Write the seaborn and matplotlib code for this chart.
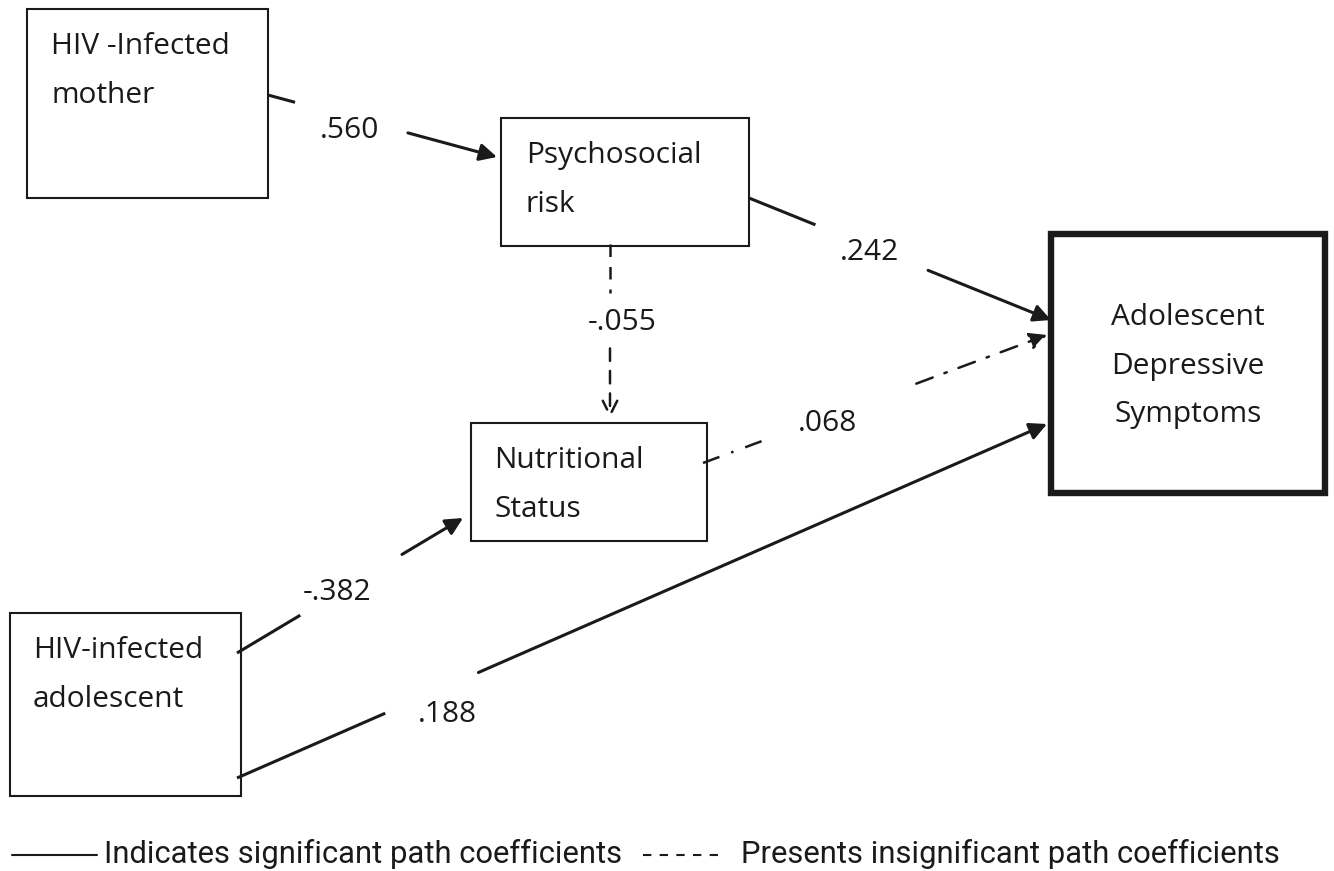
import matplotlib
matplotlib.use("Agg")
import matplotlib.pyplot as plt
from matplotlib.patches import Rectangle, FancyArrowPatch
import seaborn as sns

# Nodes of the path model
node_names = ["mother", "psych", "nutri", "adol", "dep"]
node_labels = ["HIV -Infected\nmother", "Psychosocial\nrisk", "Nutritional\nStatus",
               "HIV-infected\nadolescent", "Adolescent\nDepressive\nSymptoms"]

# Paths: source, target, coefficient, significant?
path_from = ["mother", "psych", "psych", "nutri", "adol", "adol"]
path_to = ["psych", "dep", "nutri", "dep", "nutri", "dep"]
path_coef = [".560", ".242", "-.055", ".068", "-.382", ".188"]
path_sig = [True, True, False, False, True, True]

legend_texts = ["Indicates significant path coefficients",
                "Presents insignificant path coefficients"]

# layout (pixel coordinates of the image)
box_xywh = {"mother": (27, 9, 241, 189), "psych": (501, 118, 248, 128),
            "nutri": (471, 423, 236, 118), "adol": (10, 613, 231, 183),
            "dep": (1051, 234, 274, 259)}
text_xy = {"mother": (51, 71), "psych": (526, 180), "nutri": (494, 485),
           "adol": (33, 675), "dep": (1188, 366)}
path_geom = [((268, 95), (497, 157), 0.118, 0.611, (350, 130)),
             ((749, 198), (1051, 320), 0.22, 0.593, (870, 252)),
             ((610, 244), (610, 418), 0.28, 0.6, (622, 322)),
             ((703, 463), (1047, 335), 0.2, 0.62, (827, 423)),
             ((237, 653), (463, 518), 0.28, 0.73, (337, 592)),
             ((237, 778), (1047, 424), 0.183, 0.298, (447, 714))]

sns.set_theme(style="white")
plt.rcParams['font.family'] = ['Open Sans', 'DejaVu Sans']

fig = plt.figure(figsize=(13.34, 8.71), dpi=100)
ax = fig.add_axes([0, 0, 1, 1])
ax.set_xlim(0, 1334)
ax.set_ylim(871, 0)
ax.axis("off")

for name, label in zip(node_names, node_labels):
    x, y, w, h = box_xywh[name]
    lw = 4.6 if name == "dep" else 1.5
    ax.add_patch(Rectangle((x, y), w, h, fill=False, ec="#1a1a1a", lw=lw))
    tx, ty = text_xy[name]
    ha = "center" if name == "dep" else "left"
    ax.text(tx, ty, label, ha=ha, va="center", fontsize=21.5, color="#1a1a1a",
            linespacing=1.9, multialignment=ha)

for i, (src, dst, coef, sig) in enumerate(zip(path_from, path_to, path_coef, path_sig)):
    (x0, y0), (x1, y1), t0, t1, lab = path_geom[i]
    ax_pt = (x0 + t0 * (x1 - x0), y0 + t0 * (y1 - y0))
    bx_pt = (x0 + t1 * (x1 - x0), y0 + t1 * (y1 - y0))
    if sig:
        ls, lw, style = "-", 2.2, "-|>"
    elif src == "psych":
        ls, lw, style = (0, (5, 4)), 1.8, "->"
    else:
        ls, lw, style = (0, (7, 5, 1, 5)), 1.8, "-|>"
    ax.plot([x0, ax_pt[0]], [y0, ax_pt[1]], color="#1a1a1a", lw=lw, linestyle=ls,
            solid_capstyle="butt")
    arr = FancyArrowPatch(bx_pt, (x1, y1), arrowstyle=style, mutation_scale=26,
                          color="#1a1a1a", lw=lw, linestyle=ls, shrinkA=0, shrinkB=0)
    ax.add_patch(arr)
    ax.text(lab[0], lab[1], coef, ha="center", va="center", fontsize=21.5, color="#1a1a1a")

# legend
leg_font = ['Roboto', 'DejaVu Sans']
ax.plot([12, 97], [855, 855], color="#1a1a1a", lw=1.5)
ax.text(104, 854, legend_texts[0], ha="left", va="center", fontsize=22.3,
        family=leg_font, color="#1a1a1a")
ax.plot([643, 724], [855, 855], color="#1a1a1a", lw=1.5, linestyle=(0, (4, 4)))
ax.text(741, 854, legend_texts[1], ha="left", va="center", fontsize=22.3,
        family=leg_font, color="#1a1a1a")

fig.savefig("out.png", dpi=100, facecolor="white")
